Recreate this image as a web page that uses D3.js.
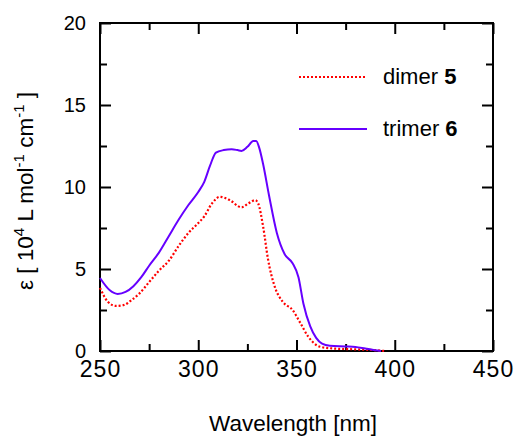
<!DOCTYPE html>
<html>
<head>
<meta charset="utf-8">
<script src="https://cdn.jsdelivr.net/npm/d3@7"></script>
<style>
  body { margin: 0; background: #fff; }
  text { font-family: "Liberation Sans", Arial, sans-serif; fill: #000; }
</style>
</head>
<body>
<div id="chart"></div>
<script>
// absorption spectra
var trimerWl = [250, 255, 259, 263, 267, 271, 275, 280, 285, 290, 295, 300, 303, 306, 309, 313, 317, 320, 322, 325, 328, 329.5, 331, 333, 336, 340, 344, 348, 351, 353.5, 357, 360, 363, 367, 375, 380, 385, 390, 393];
var trimerEps = [4.45, 3.7, 3.48, 3.6, 3.95, 4.5, 5.2, 6.0, 7.0, 8.0, 8.9, 9.7, 10.3, 11.3, 12.1, 12.25, 12.3, 12.25, 12.2, 12.45, 12.8, 12.8, 12.4, 11.4, 9.5, 7.2, 5.9, 5.35, 4.5, 2.9, 1.5, 0.8, 0.45, 0.32, 0.28, 0.25, 0.15, 0.05, 0];

var dimerWl = [250, 254, 258, 262, 266, 270, 275, 280, 285, 290, 295, 300, 303, 307, 311, 316, 322, 325.5, 329, 330.5, 333, 335.5, 339, 343, 348, 352, 356, 362, 368, 380, 390, 395];
var dimerEps = [3.85, 3.0, 2.75, 2.8, 3.1, 3.5, 4.2, 4.9, 5.5, 6.4, 7.2, 7.8, 8.2, 9.0, 9.4, 9.2, 8.76, 9.0, 9.2, 9.0, 7.6, 5.6, 3.9, 3.0, 2.5, 1.7, 0.87, 0.26, 0.16, 0.1, 0.05, 0];

var xMajor = [250, 300, 350, 400, 450];
var xMinor = [275, 325, 375, 425];
var yMajor = [0, 5, 10, 15, 20];
var yMinor = [2.5, 7.5, 12.5, 17.5];

var svgWidth = 514;
var svgHeight = 441;
var margin = { top: 23, right: 21, bottom: 90, left: 100 };
var width = svgWidth - margin.left - margin.right;
var height = svgHeight - margin.top - margin.bottom;

var svg = d3.select("#chart")
    .append("svg")
    .attr("width", svgWidth)
    .attr("height", svgHeight);

var chartGroup = svg.append("g")
    .attr("transform", `translate(${margin.left}, ${margin.top})`);

var x = d3.scaleLinear().domain([250, 450]).range([0, width]);
var y = d3.scaleLinear().domain([0, 20]).range([height, 0]);

function styleAxis(g, labelSize) {
    g.select(".domain").remove();
    g.selectAll("line").attr("stroke", "#000").attr("stroke-width", 2);
    g.selectAll("text")
        .style("font-size", labelSize + "px")
        .style("font-family", "'Liberation Sans', Arial, sans-serif");
}

// major / minor ticks on all four sides, pointing inward
chartGroup.append("g")
    .attr("transform", `translate(0, ${height})`)
    .call(d3.axisBottom(x).tickValues(xMajor).tickSize(-11).tickPadding(10).tickFormat(d3.format("d")))
    .call(g => styleAxis(g, 23))
    .selectAll("text").attr("letter-spacing", "1px");
chartGroup.append("g")
    .attr("transform", `translate(0, ${height})`)
    .call(d3.axisBottom(x).tickValues(xMinor).tickSize(-7).tickFormat(""))
    .call(g => styleAxis(g, 22));
chartGroup.append("g")
    .call(d3.axisTop(x).tickValues(xMajor).tickSize(-11).tickFormat(""))
    .call(g => styleAxis(g, 22));
chartGroup.append("g")
    .call(d3.axisTop(x).tickValues(xMinor).tickSize(-7).tickFormat(""))
    .call(g => styleAxis(g, 22));

chartGroup.append("g")
    .call(d3.axisLeft(y).tickValues(yMajor).tickSize(-11).tickPadding(14).tickFormat(d3.format("d")))
    .call(g => styleAxis(g, 20));
chartGroup.append("g")
    .call(d3.axisLeft(y).tickValues(yMinor).tickSize(-7).tickFormat(""))
    .call(g => styleAxis(g, 20));
chartGroup.append("g")
    .attr("transform", `translate(${width}, 0)`)
    .call(d3.axisRight(y).tickValues(yMajor).tickSize(-11).tickFormat(""))
    .call(g => styleAxis(g, 20));
chartGroup.append("g")
    .attr("transform", `translate(${width}, 0)`)
    .call(d3.axisRight(y).tickValues(yMinor).tickSize(-7).tickFormat(""))
    .call(g => styleAxis(g, 20));

// frame
chartGroup.append("rect")
    .attr("width", width)
    .attr("height", height)
    .attr("fill", "none")
    .attr("stroke", "#000")
    .attr("stroke-width", 2);

var line = d3.line()
    .x(d => x(d[0]))
    .y(d => y(d[1]))
    .curve(d3.curveMonotoneX);

chartGroup.append("path")
    .datum(d3.zip(dimerWl, dimerEps))
    .attr("d", line)
    .attr("fill", "none")
    .attr("stroke", "#ff0000")
    .attr("stroke-width", 2.2)
    .attr("stroke-dasharray", "2,2");

chartGroup.append("path")
    .datum(d3.zip(trimerWl, trimerEps))
    .attr("d", line)
    .attr("fill", "none")
    .attr("stroke", "#6600ff")
    .attr("stroke-width", 2);

// legend
var legend = [
    { name: "dimer ", num: "5", color: "#ff0000", dash: "2,2", y: 77 },
    { name: "trimer ", num: "6", color: "#6600ff", dash: null, y: 129 }
];
legend.forEach(function(item) {
    svg.append("line")
        .attr("x1", 299).attr("x2", 367)
        .attr("y1", item.y).attr("y2", item.y)
        .attr("stroke", item.color)
        .attr("stroke-width", 2)
        .attr("stroke-dasharray", item.dash);
    var t = svg.append("text")
        .attr("x", 383)
        .attr("y", item.y + 7)
        .style("font-size", "22px")
        .text(item.name);
    t.append("tspan").attr("font-weight", "bold").text(item.num);
});

// axis titles
svg.append("text")
    .attr("x", 293)
    .attr("y", 431)
    .attr("text-anchor", "middle")
    .style("font-size", "22.5px")
    .text("Wavelength [nm]");

var yTitle = svg.append("text")
    .attr("transform", "translate(33, 191) rotate(-90)")
    .attr("text-anchor", "middle")
    .style("font-size", "22.5px");
yTitle.append("tspan").text("\u03b5 [ 10");
yTitle.append("tspan").attr("dy", -9).style("font-size", "15px").text("4");
yTitle.append("tspan").attr("dy", 9).text(" L mol");
yTitle.append("tspan").attr("dy", -9).style("font-size", "15px").text("-1");
yTitle.append("tspan").attr("dy", 9).text(" cm");
yTitle.append("tspan").attr("dy", -9).style("font-size", "15px").text("-1");
yTitle.append("tspan").attr("dy", 9).text(" ]");
</script>
</body>
</html>
